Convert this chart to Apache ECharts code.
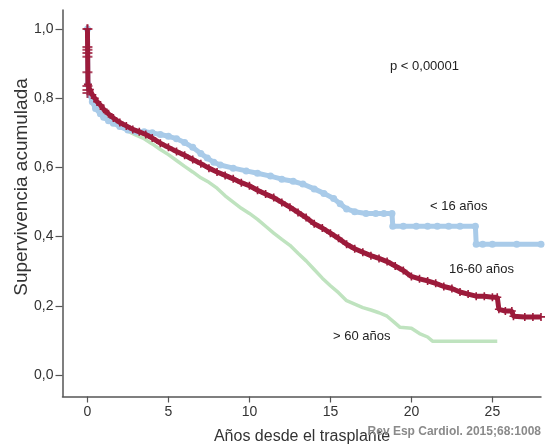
<!DOCTYPE html>
<html>
<head>
<meta charset="utf-8">
<title>Supervivencia acumulada por edad</title>
<script src="https://cdn.jsdelivr.net/npm/echarts@6/dist/echarts.min.js"></script>
<style>
  html, body { margin: 0; padding: 0; background: #ffffff; }
  #chart { width: 545px; height: 446px; }
</style>
</head>
<body>
<div id="chart"></div>
<script>
// Kaplan-Meier survival after transplant, by recipient age group
const xTicks = [0, 5, 10, 15, 20, 25];
const yTicks = [0, 0.2, 0.4, 0.6, 0.8, 1.0];

// < 16 años
const tYoung = [0, 0.03, 0.15, 0.3, 0.5, 0.8, 1.0, 1.3, 1.6, 2.0, 2.5, 3.0, 3.5, 4.0, 4.5, 5.0, 5.5, 6.0, 6.5, 7.0, 7.4, 7.8, 8.2, 9.0, 9.8, 10.5, 11.3, 12.0, 12.7, 13.3, 14.0, 14.6, 15.2, 15.6, 16.0, 16.5, 17.2, 17.8, 18.3, 18.8, 18.85, 19.5, 20.3, 21.0, 21.6, 22.3, 23.0, 23.95, 24.0, 24.4, 25.0, 26.5, 28.0];
const sYoung = [1.0, 0.84, 0.81, 0.79, 0.77, 0.755, 0.745, 0.735, 0.728, 0.718, 0.708, 0.703, 0.703, 0.70, 0.695, 0.69, 0.683, 0.672, 0.658, 0.64, 0.627, 0.615, 0.607, 0.598, 0.59, 0.583, 0.575, 0.566, 0.56, 0.552, 0.538, 0.525, 0.51, 0.495, 0.48, 0.472, 0.467, 0.467, 0.467, 0.467, 0.43, 0.43, 0.43, 0.43, 0.43, 0.43, 0.43, 0.43, 0.378, 0.378, 0.378, 0.378, 0.378];

// 16-60 años
const tAdult = [0, 0.03, 0.15, 0.3, 0.45, 0.6, 0.8, 1.0, 1.3, 1.6, 2.0, 2.4, 2.8, 3.2, 3.6, 4.0, 4.5, 5.0, 5.5, 6.0, 6.5, 7.0, 7.5, 8.0, 8.5, 9.0, 9.5, 10.0, 10.5, 11.0, 11.5, 12.0, 12.5, 13.0, 13.5, 14.0, 14.5, 15.0, 15.5, 16.0, 16.5, 17.0, 17.5, 18.0, 18.5, 19.0, 19.5, 20.0, 20.5, 21.0, 21.5, 22.0, 22.5, 23.0, 23.5, 24.0, 24.5, 25.0, 25.3, 25.4, 25.8, 26.2, 26.3, 27.0, 27.5, 28.0];
const sAdult = [1.0, 0.84, 0.825, 0.81, 0.80, 0.79, 0.78, 0.768, 0.755, 0.743, 0.73, 0.72, 0.71, 0.703, 0.695, 0.685, 0.67, 0.658, 0.646, 0.635, 0.623, 0.611, 0.598, 0.587, 0.577, 0.567, 0.556, 0.547, 0.534, 0.523, 0.513, 0.499, 0.485, 0.47, 0.455, 0.437, 0.425, 0.41, 0.395, 0.378, 0.365, 0.355, 0.345, 0.337, 0.328, 0.315, 0.302, 0.285, 0.278, 0.272, 0.265, 0.256, 0.25, 0.24, 0.234, 0.228, 0.228, 0.225, 0.225, 0.19, 0.185, 0.185, 0.17, 0.168, 0.168, 0.168];
// censored cases seen right at time zero
const adultEarlyCensor = [1.0, 0.948, 0.94, 0.931, 0.92, 0.875, 0.835, 0.824, 0.815];

// > 60 años
const tOld = [0, 0.03, 0.15, 0.3, 0.5, 0.8, 1.0, 1.5, 2.0, 2.5, 3.0, 3.5, 4.0, 4.5, 5.0, 5.5, 6.0, 6.5, 7.0, 7.5, 8.0, 8.5, 9.0, 9.5, 10.0, 10.5, 11.0, 11.5, 12.0, 12.5, 13.0, 13.5, 14.0, 14.5, 15.0, 15.5, 16.0, 16.5, 17.0, 17.5, 18.0, 18.5, 19.0, 19.3, 20.0, 20.5, 21.0, 21.3, 25.3];
const sOld = [1.0, 0.84, 0.81, 0.785, 0.77, 0.755, 0.748, 0.735, 0.72, 0.705, 0.693, 0.683, 0.668, 0.652, 0.637, 0.62, 0.603, 0.587, 0.57, 0.557, 0.54, 0.518, 0.5, 0.482, 0.467, 0.45, 0.43, 0.41, 0.392, 0.375, 0.352, 0.33, 0.305, 0.28, 0.258, 0.238, 0.215, 0.205, 0.195, 0.188, 0.18, 0.17, 0.15, 0.138, 0.135, 0.12, 0.11, 0.098, 0.098];

const groupLabels = ['< 16 años', '16-60 años', '> 60 años'];
const pValueText = 'p < 0,00001';
const xTitle = 'Años desde el trasplante';
const yTitle = 'Supervivencia acumulada';
const sourceText = 'Rev Esp Cardiol. 2015;68:1008';

const zip = (t, s) => t.map((x, i) => [x, s[i]]);
const comma = v => v.toFixed(1).replace('.', ',');

const RED = '#9c1b3b';
const BLUE = '#a9cbe9';
const GREEN = '#bfe3bf';
const AXIS = '#555555';
const FONT = '"Liberation Sans", Arial, sans-serif';
const plus = 'path://M4,0H6V4H10V6H6V10H4V6H0V4H4Z';

const chart = echarts.init(document.getElementById('chart'), null, { renderer: 'canvas' });

chart.setOption({
  animation: false,
  backgroundColor: '#ffffff',
  textStyle: { fontFamily: FONT },
  grid: { left: 62.5, right: 4, top: 10, bottom: 49.5, containLabel: false, outerBoundsMode: 'none' },
  xAxis: {
    type: 'value',
    min: -1.54,
    max: 28,
    axisLine: { show: true, onZero: false, lineStyle: { color: AXIS, width: 1.5 } },
    axisTick: { show: true, length: 6, customValues: xTicks, lineStyle: { color: AXIS, width: 1.2 } },
    axisLabel: { customValues: xTicks, fontSize: 14, color: '#333', margin: 9, fontFamily: FONT },
    splitLine: { show: false }
  },
  yAxis: {
    type: 'value',
    min: -0.062,
    max: 1.055,
    axisLine: { show: true, onZero: false, lineStyle: { color: AXIS, width: 1.5 } },
    axisTick: { show: true, length: 7, customValues: yTicks, lineStyle: { color: AXIS, width: 1.2 } },
    axisLabel: { customValues: yTicks, fontSize: 14, color: '#333', margin: 9, fontFamily: FONT, formatter: comma },
    splitLine: { show: false }
  },
  series: [
    {
      name: groupLabels[2],
      type: 'line',
      data: zip(tOld, sOld),
      showSymbol: false,
      lineStyle: { color: GREEN, width: 3.5 },
      z: 2
    },
    {
      name: groupLabels[0],
      type: 'line',
      data: zip(tYoung, sYoung),
      symbol: 'circle',
      symbolSize: 7,
      showSymbol: true,
      itemStyle: { color: BLUE },
      lineStyle: { color: BLUE, width: 5 },
      z: 3
    },
    {
      name: groupLabels[1],
      type: 'line',
      data: zip(tAdult, sAdult),
      symbol: plus,
      symbolSize: 8,
      showSymbol: true,
      itemStyle: { color: RED },
      lineStyle: { color: RED, width: 5 },
      z: 4
    },
    {
      name: groupLabels[1] + ' censurados',
      type: 'scatter',
      data: adultEarlyCensor.map(v => [0, v]),
      symbol: plus,
      symbolSize: 10,
      itemStyle: { color: RED },
      z: 5
    }
  ],
  graphic: [
    { type: 'text', x: 22, y: 187, rotation: Math.PI / 2, style: { text: yTitle, fill: '#333', font: '19px ' + FONT, align: 'center', verticalAlign: 'middle' } },
    { type: 'text', x: 302, y: 437, style: { text: xTitle, fill: '#333', font: '16px ' + FONT, align: 'center', verticalAlign: 'middle' } },
    { type: 'text', left: 390, top: 60, style: { text: pValueText, fill: '#222', font: '13px ' + FONT } },
    { type: 'text', left: 430, top: 200, style: { text: groupLabels[0], fill: '#222', font: '13px ' + FONT } },
    { type: 'text', left: 449, top: 263, style: { text: groupLabels[1], fill: '#222', font: '13px ' + FONT } },
    { type: 'text', left: 333, top: 330, style: { text: groupLabels[2], fill: '#222', font: '13px ' + FONT } },
    { type: 'text', right: 4, top: 426, z: 10, style: { text: sourceText, fill: '#8a8a8a', font: 'bold 12px ' + FONT } }
  ]
});
</script>
</body>
</html>
